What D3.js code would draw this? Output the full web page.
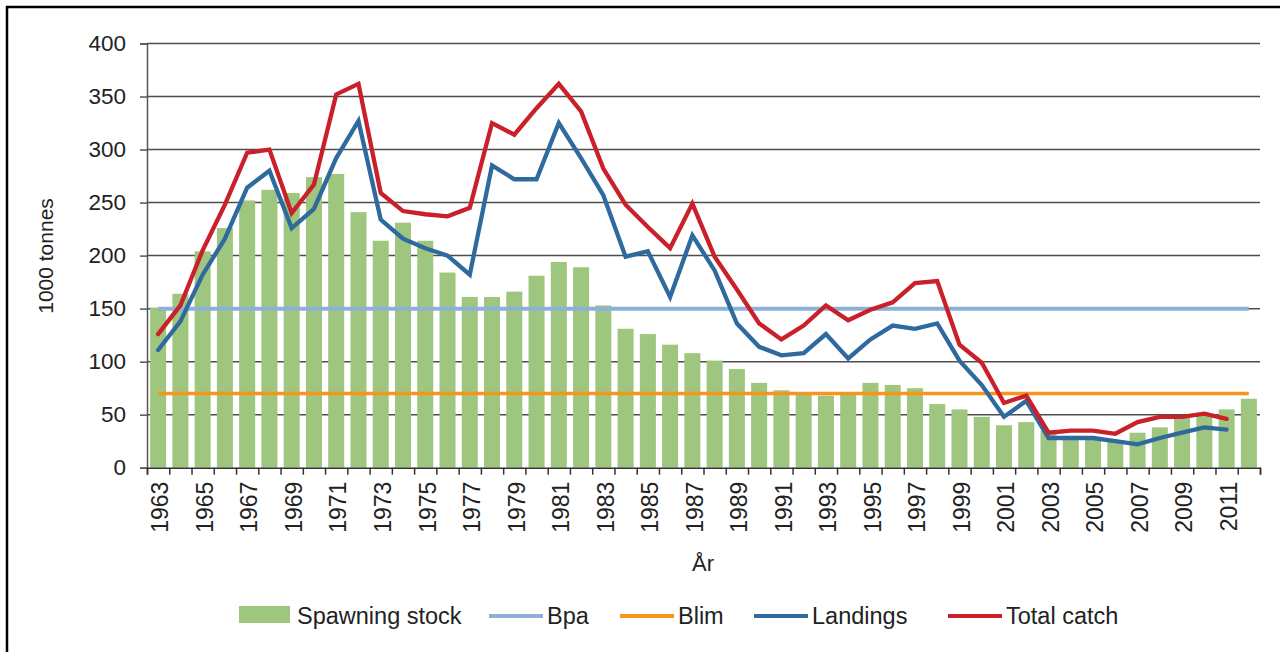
<!DOCTYPE html>
<html>
<head>
<meta charset="utf-8">
<script src="https://cdn.jsdelivr.net/npm/d3@7"></script>
<style>
  html, body { margin: 0; padding: 0; background: #fff; }
  svg { display: block; font-family: "Liberation Sans", Arial, sans-serif; }
</style>
</head>
<body>
<svg id="chart" width="1280" height="652"></svg>
<script>
const years = d3.range(1963, 2013);
const spawningStock = [151,164,204,226,252,262,259,274,277,241,214,231,214,184,161,161,166,181,194,189,153,131,126,116,108,101,93,80,73,71,68,70,80,78,75,60,55,48,40,43,35,30,29,26,33,38,47,50,55,65];
const landings = [111,138,182,216,264,280,226,244,292,327,234,216,207,200,182,285,272,272,325,292,257,199,204,161,219,186,136,114,106,108,126,103,121,134,131,136,101,78,48,63,28,28,28,25,22,28,33,38,36,null];
const totalCatch = [126,153,205,248,297,300,240,267,352,362,259,242,239,237,245,325,314,339,362,336,282,248,227,207,249,199,168,136,121,134,153,139,149,156,174,176,116,99,61,68,33,35,35,32,43,48,48,51,46,null];
const bpaValue = 150;
const blimValue = 70;
const yTicks = [0,50,100,150,200,250,300,350,400];
const labelYears = years.filter(y => (y - 1963) % 2 === 0 && y <= 2011);
const legendItems = ["Spawning stock","Bpa","Blim","Landings","Total catch"];

const colors = {
  bar: "#9fc67e",
  bpa: "#8cb0d9",
  blim: "#f7941e",
  landings: "#2f6a9f",
  total: "#c9202a"
};

const svg = d3.select("#chart");
const plotLeft = 147, plotRight = 1260, plotTop = 43.5, plotBottom = 467.7;

const x = d3.scaleBand().domain(years).range([plotLeft, plotRight]).paddingInner(0.28).paddingOuter(0.14);
const xc = d => x(d) + x.bandwidth() / 2;
const y = d3.scaleLinear().domain([0, 400]).range([plotBottom, plotTop]);
const xb = d3.scaleLinear().domain([0, years.length]).range([plotLeft, plotRight]);

// frame
svg.append("rect").attr("x", 7).attr("y", 7).attr("width", 1300).attr("height", 700)
  .attr("fill", "none").attr("stroke", "#000").attr("stroke-width", 2.5);

// gridlines
svg.append("g").selectAll("line").data(yTicks.filter(t => t > 0)).join("line")
  .attr("x1", plotLeft).attr("x2", plotRight)
  .attr("y1", d => y(d)).attr("y2", d => y(d))
  .attr("stroke", "#4d4d4d").attr("stroke-width", 1.5);

// bars
svg.append("g").selectAll("rect").data(years).join("rect")
  .attr("x", d => x(d)).attr("width", x.bandwidth())
  .attr("y", (d, i) => y(spawningStock[i]))
  .attr("height", (d, i) => y(0) - y(spawningStock[i]))
  .attr("fill", colors.bar);

// reference lines
function refLine(v, c, w) {
  svg.append("line")
    .attr("x1", xc(years[0])).attr("x2", xc(years[years.length - 1]))
    .attr("y1", y(v)).attr("y2", y(v))
    .attr("stroke", c).attr("stroke-width", w);
}
refLine(bpaValue, colors.bpa, 4);
refLine(blimValue, colors.blim, 3.5);

// series lines
function seriesLine(vals, c) {
  const line = d3.line().defined(d => d[1] != null).x(d => xc(d[0])).y(d => y(d[1]));
  svg.append("path").datum(years.map((yr, i) => [yr, vals[i]]))
    .attr("d", line).attr("fill", "none").attr("stroke", c)
    .attr("stroke-width", 4.3).attr("stroke-linejoin", "miter").attr("stroke-linecap", "round");
}
seriesLine(landings, colors.landings);
seriesLine(totalCatch, colors.total);

// y axis
const yAxis = svg.append("g").attr("transform", `translate(${plotLeft},0)`)
  .call(d3.axisLeft(y).tickValues(yTicks).tickSize(7).tickPadding(14));
yAxis.select(".domain").attr("stroke", "#555").attr("stroke-width", 1.5);
yAxis.selectAll(".tick line").attr("stroke", "#555").attr("stroke-width", 1.5);
yAxis.selectAll(".tick text").attr("font-size", 22.5).attr("fill", "#222")
  .attr("font-family", "'Liberation Sans', Arial, sans-serif");

// x axis (tick marks at band boundaries)
const xAxis = svg.append("g").attr("transform", `translate(0,${plotBottom})`)
  .call(d3.axisBottom(xb).tickValues(d3.range(years.length + 1)).tickSize(7).tickFormat(""));
xAxis.select(".domain").attr("stroke", "#333").attr("stroke-width", 1.5);
xAxis.selectAll(".tick line").attr("stroke", "#333").attr("stroke-width", 1.5);

// x labels
svg.append("g").selectAll("text").data(labelYears).join("text")
  .attr("transform", d => `translate(${xc(d) + 2},${plotBottom + 14}) rotate(-90)`)
  .attr("text-anchor", "end").attr("dy", "0.36em")
  .attr("font-size", 23).attr("fill", "#222")
  .text(d => d);

// axis titles
svg.append("text").attr("transform", "translate(53,256) rotate(-90)")
  .attr("text-anchor", "middle").attr("font-size", 21).attr("fill", "#222")
  .text("1000 tonnes");
svg.append("text").attr("x", 703).attr("y", 571)
  .attr("text-anchor", "middle").attr("font-size", 22).attr("fill", "#222")
  .text("År");

// legend
const legendPos = [239, 489, 620, 754, 948];
const legendColors = [colors.bar, colors.bpa, colors.blim, colors.landings, colors.total];
const lg = svg.append("g");
legendItems.forEach((name, i) => {
  const lx = legendPos[i];
  if (i === 0) {
    lg.append("rect").attr("x", lx).attr("y", 606).attr("width", 51).attr("height", 17).attr("fill", legendColors[i]);
  } else {
    lg.append("line").attr("x1", lx).attr("x2", lx + 54).attr("y1", 616).attr("y2", 616)
      .attr("stroke", legendColors[i]).attr("stroke-width", 4);
  }
  lg.append("text").attr("x", lx + 58).attr("y", 624)
    .attr("font-size", 23.5).attr("fill", "#222").text(name);
});
</script>
</body>
</html>
